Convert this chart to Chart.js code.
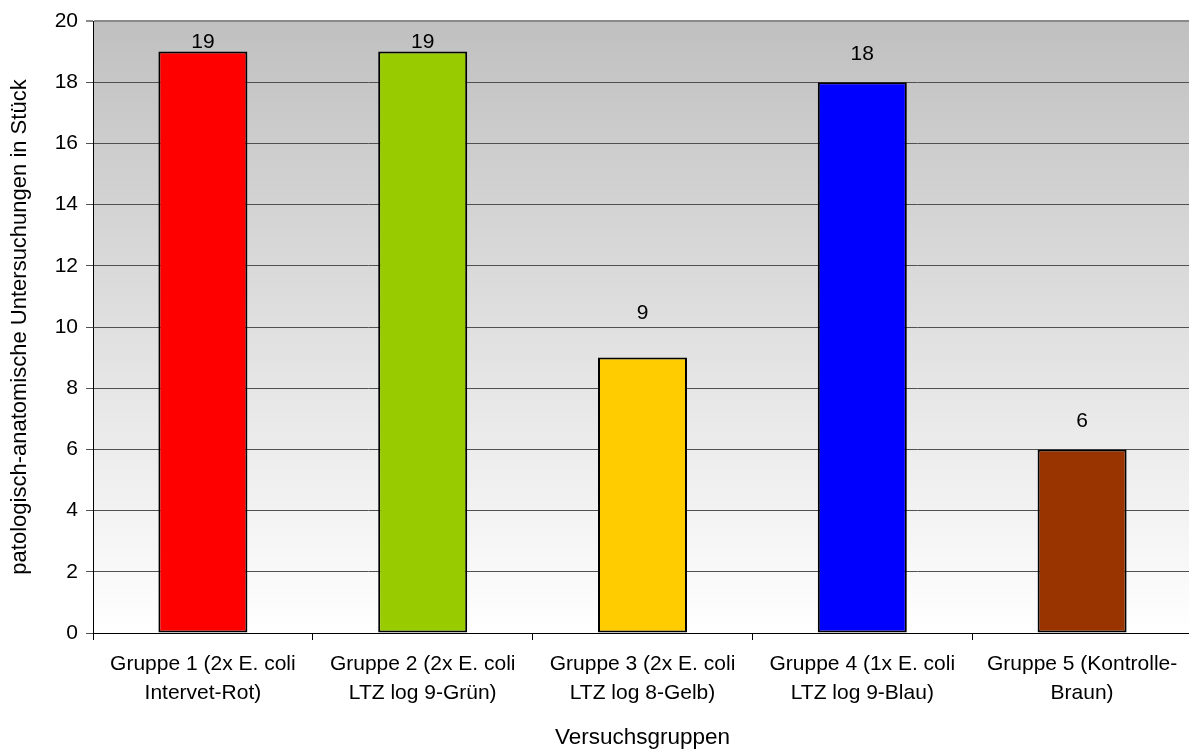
<!DOCTYPE html>
<html>
<head>
<meta charset="utf-8">
<script src="https://cdn.jsdelivr.net/npm/chart.js@4"></script>
<style>
  html, body { margin: 0; padding: 0; overflow: hidden; background: #ffffff; }
  #wrap { width: 1192px; height: 751px; }
</style>
</head>
<body>
<div id="wrap"><canvas id="chart" width="1192" height="751"></canvas></div>
<script>
// Versuchsgruppen (zweizeilige Beschriftung)
const gruppen = [
  ['Gruppe 1 (2x E. coli', 'Intervet-Rot)'],
  ['Gruppe 2 (2x E. coli', 'LTZ log 9-Grün)'],
  ['Gruppe 3 (2x E. coli', 'LTZ log 8-Gelb)'],
  ['Gruppe 4 (1x E. coli', 'LTZ log 9-Blau)'],
  ['Gruppe 5 (Kontrolle-', 'Braun)']
];
// Anzahl pathologisch-anatomischer Untersuchungen je Gruppe
const untersuchungen = [19, 19, 9, 18, 6];
const gruppenFarben = ['#ff0000', '#99cc00', '#ffcc00', '#0000ff', '#993300'];
const yMin = 0, yMax = 20, yStep = 2;

const FONT = "'Liberation Sans', Arial, sans-serif";

// Hintergrundverlauf der Zeichenfläche (grau oben, weiß unten)
const plotBackground = {
  id: 'plotBackground',
  beforeDraw(chart) {
    const { ctx, chartArea: a } = chart;
    const g = ctx.createLinearGradient(0, a.top, 0, a.bottom);
    g.addColorStop(0, '#c0c0c0');
    g.addColorStop(1, '#ffffff');
    ctx.save();
    ctx.fillStyle = g;
    ctx.fillRect(a.left, a.top, a.right - a.left, a.bottom - a.top);
    ctx.restore();
  }
};

// Wertbeschriftung über den Säulen
const valueLabels = {
  id: 'valueLabels',
  afterDatasetsDraw(chart, args, opts) {
    const { ctx } = chart;
    const meta = chart.getDatasetMeta(0);
    const vals = chart.data.datasets[0].data;
    ctx.save();
    ctx.font = '21px ' + FONT;
    ctx.fillStyle = '#000';
    ctx.textAlign = 'center';
    ctx.textBaseline = 'middle';
    meta.data.forEach((bar, i) => {
      ctx.fillText(String(vals[i]), bar.x, bar.y - opts.lift[i]);
    });
    ctx.restore();
  }
};

new Chart(document.getElementById('chart'), {
  type: 'bar',
  data: {
    labels: gruppen,
    datasets: [{
      data: untersuchungen,
      backgroundColor: gruppenFarben,
      borderColor: '#000000',
      borderWidth: 2,
      borderSkipped: false,
      barPercentage: 0.405,
      categoryPercentage: 1.0
    }]
  },
  options: {
    responsive: false,
    animation: false,
    devicePixelRatio: 1,
    layout: { padding: { top: 21, right: 0, bottom: 0, left: 0 } },
    plugins: {
      legend: { display: false },
      tooltip: { enabled: false },
      valueLabels: { lift: [9, 9, 44, 28, 28] }
    },
    scales: {
      x: {
        offset: true,
        afterFit(scale) { scale.height = 118; },
        grid: {
          offset: true,
          drawOnChartArea: false,
          drawTicks: true,
          tickLength: 7,
          color: '#000000',
          lineWidth: 1
        },
        border: { display: true, color: '#000000', width: 1 },
        ticks: {
          color: '#000000',
          padding: 10,
          maxRotation: 0,
          autoSkip: false,
          font: { family: FONT, size: 21, lineHeight: 1.38 }
        },
        title: {
          display: true,
          text: 'Versuchsgruppen',
          color: '#000000',
          font: { family: FONT, size: 22.5 },
          padding: { top: 0, bottom: 0 }
        }
      },
      y: {
        min: yMin,
        max: yMax,
        afterFit(scale) { scale.width = 93; },
        grid: {
          drawTicks: true,
          tickLength: 7,
          color: (c) => c.tick && c.tick.value === yMax ? '#8a8a8a' : '#505050',
          lineWidth: (c) => c.tick && c.tick.value === yMax ? 2 : 1
        },
        border: { display: true, color: '#000000', width: 1 },
        ticks: {
          stepSize: yStep,
          color: '#000000',
          padding: 8,
          font: { family: FONT, size: 21 }
        },
        title: {
          display: true,
          text: 'patologisch-anatomische Untersuchungen in Stück',
          color: '#000000',
          font: { family: FONT, size: 22 },
          padding: { top: 7, bottom: 0 }
        }
      }
    }
  },
  plugins: [plotBackground, valueLabels]
});
</script>
</body>
</html>
